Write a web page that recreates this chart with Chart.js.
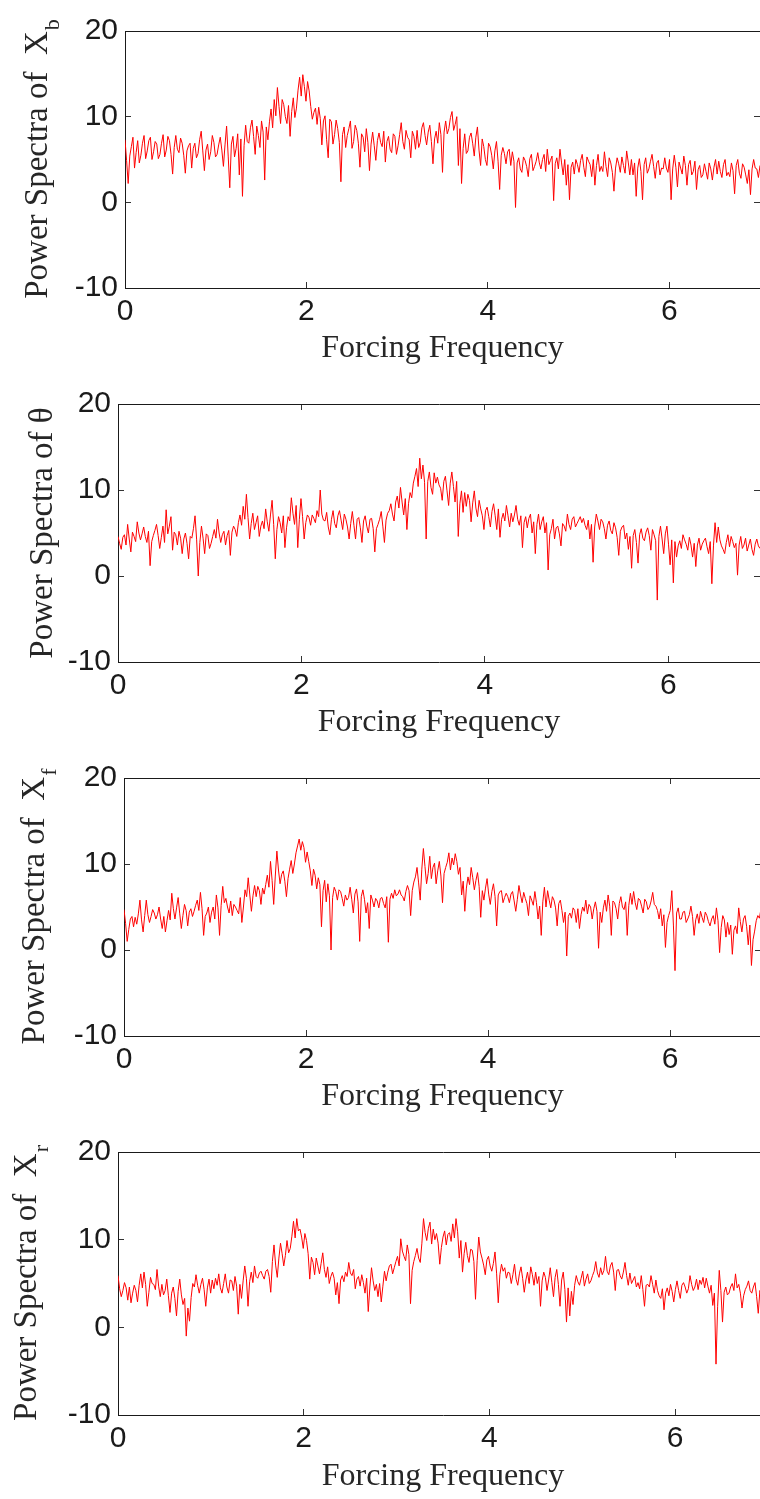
<!DOCTYPE html>
<html>
<head>
<meta charset="utf-8">
<title>Power spectra</title>
<script src="https://cdn.jsdelivr.net/npm/chart.js@4.4.1/dist/chart.umd.min.js"></script>
<style>
  html, body { margin: 0; padding: 0; background: #fff; }
  body { width: 760px; height: 1499px; overflow: hidden; position: relative; }
  canvas { position: absolute; left: 0; }
</style>
</head>
<body>
<canvas id="c1"></canvas>
<canvas id="c2"></canvas>
<canvas id="c3"></canvas>
<canvas id="c4"></canvas>
<script>
// spectra are read at f = k*0.035 (main arrays) and f = k*0.035 + 0.0175 (Mid arrays)
const FREQ_STEP = 0.035;
const xTickValues = [0, 2, 4, 6];
const yTickValues = [-10, 0, 10, 20];

const spectraXb = [
  7.3, 2.2, 6.5, 4.0, 7.2, 5.5, 7.8, 6.0, 7.6, 5.9,
  6.8, 5.6, 7.9, 6.1, 7.2, 3.3, 7.8, 5.8, 6.9, 3.4,
  6.6, 4.0, 6.9, 5.7, 8.3, 3.7, 6.8, 5.9, 7.0, 5.6,
  7.6, 4.2, 8.9, 1.7, 7.7, 6.3, 3.2, 0.7, 9.0, 6.9,
  9.6, 5.6, 7.8, 9.5, 2.6, 7.3, 10.9, 12.0, 13.4, 9.2,
  11.4, 9.2, 7.7, 12.2, 11.0, 14.6, 14.9, 11.8, 13.0, 9.7,
  11.0, 11.1, 6.7, 10.1, 5.2, 9.4, 7.9, 8.6, 2.4, 8.8,
  7.8, 9.5, 7.1, 8.4, 4.1, 7.6, 8.6, 3.7, 8.2, 4.9,
  8.1, 6.5, 4.7, 7.7, 5.8, 7.7, 6.6, 9.3, 6.2, 7.6,
  5.2, 7.7, 8.4, 7.0, 9.3, 6.7, 9.0, 4.5, 8.3, 9.3,
  3.5, 9.5, 8.6, 10.6, 9.1, 4.3, 2.2, 8.0, 6.0, 8.1,
  5.4, 8.8, 4.3, 6.5, 4.3, 6.5, 3.9, 7.1, 1.5, 6.4,
  4.5, 6.2, 5.9, -0.6, 5.2, 3.5, 4.9, 3.0, 5.6, 4.2,
  5.8, 3.9, 5.6, 6.2, 4.9, 0.2, 5.2, 6.2, 3.2, 2.0,
  0.3, 4.7, 5.0, 3.5, 5.6, 3.0, 4.8, 3.0, 2.0, 5.6,
  4.2, 5.9, 3.0, 4.6, 1.3, 5.2, 3.5, 4.3, 6.0, 3.2,
  3.2, 0.7, 5.1, 0.3, 5.2, 3.9, 5.6, 2.8, 4.9, 4.0,
  5.2, 3.5, 0.3, 5.5, 1.8, 4.0, 5.4, 2.0, 4.9, 3.6,
  1.5, 4.3, 3.2, 3.6, 4.6, 2.6, 5.0, 4.8, 2.9, 5.0,
  3.5, 4.6, 1.0, 5.0, 2.8, 4.1, 2.2, 0.9, 5.0, 3.9, 4.3
];
const spectraXbMid = [
  4.9, 5.4, 7.6, 5.8, 4.6, 6.9, 5.1, 7.2, 5.0, 7.1,
  5.1, 6.9, 5.3, 7.7, 5.6, 6.4, 6.2, 7.5, 5.5, 6.0,
  6.9, 6.3, 5.2, 7.3, 6.0, 6.1, 5.0, 7.8, 5.3, 6.7,
  6.1, 6.7, 5.4, 6.8, 5.3, 8.0, 7.4, 6.6, 7.1, 8.7,
  7.7, 8.9, 6.4, 8.2, 8.8, 9.4, 8.7, 10.1, 11.2, 12.0,
  10.0, 11.3, 10.6, 9.9, 13.1, 12.4, 13.5, 14.1, 11.2, 10.5,
  9.1, 9.8, 9.5, 7.3, 9.7, 6.8, 9.6, 7.0, 7.9, 6.4,
  8.6, 6.3, 9.0, 6.9, 8.0, 5.9, 7.0, 6.8, 6.6, 7.2,
  7.0, 8.3, 7.1, 6.2, 8.0, 5.6, 7.9, 7.1, 8.4, 7.3,
  8.3, 6.2, 6.4, 8.7, 7.8, 8.2, 7.1, 7.4, 6.9, 7.9,
  8.2, 8.0, 9.9, 8.4, 10.0, 8.6, 6.3, 5.7, 7.6, 6.9,
  7.6, 6.1, 7.4, 5.0, 6.9, 5.5, 6.0, 4.8, 5.5, 5.7,
  5.9, 4.3, 4.8, 4.6, 3.9, 5.3, 4.2, 5.1, 3.7, 4.8,
  4.6, 5.0, 3.6, 4.4, 5.4, 4.5, 3.9, 4.6, 5.0, 4.4,
  4.1, 3.3, 4.4, 4.9, 4.1, 5.3, 4.4, 5.0, 4.3, 3.6,
  3.6, 4.2, 5.2, 3.5, 4.0, 4.5, 5.3, 3.4, 4.7, 5.0,
  4.6, 4.0, 3.6, 4.4, 3.4, 4.8, 4.2, 4.6, 3.2, 3.9,
  4.0, 5.0, 3.9, 4.1, 4.7, 3.3, 4.3, 4.4, 3.2, 4.8,
  3.8, 2.9, 4.5, 2.7, 3.9, 4.1, 3.3, 3.6, 4.4, 3.1,
  3.0, 3.7, 4.3, 3.4, 4.5, 3.2, 3.8, 3.9, 4.0, 2.9
];

const spectraTheta = [
  4.6, 3.1, 4.8, 6.0, 2.8, 4.6, 6.3, 4.2, 5.7, 3.9,
  1.2, 4.7, 6.0, 3.2, 5.8, 7.7, 5.8, 3.0, 4.8, 5.2,
  2.6, 5.0, 2.0, 4.4, 7.0, 0.0, 5.8, 2.6, 4.7, 3.8,
  5.4, 6.6, 3.9, 5.2, 4.7, 2.4, 5.8, 4.6, 7.1, 8.1,
  9.5, 4.3, 7.3, 6.2, 4.6, 6.4, 7.8, 5.2, 8.8, 2.0,
  6.9, 5.0, 3.3, 6.9, 9.1, 6.0, 3.3, 9.0, 4.3, 7.1,
  5.9, 6.7, 7.6, 10.0, 6.5, 7.4, 4.8, 7.6, 5.6, 7.6,
  5.4, 6.6, 4.3, 7.5, 4.3, 6.8, 3.9, 7.0, 5.0, 6.7,
  2.8, 6.0, 7.5, 3.9, 7.3, 8.4, 6.4, 9.3, 10.3, 7.1,
  5.4, 9.7, 10.8, 12.5, 13.7, 12.9, 4.3, 12.1, 9.5, 10.8,
  10.6, 8.8, 11.6, 8.2, 12.1, 8.6, 4.6, 9.9, 9.7, 9.5,
  6.3, 9.9, 6.9, 7.8, 5.4, 8.0, 5.7, 8.4, 5.4, 4.5,
  7.3, 8.2, 5.7, 6.3, 8.2, 5.9, 3.3, 6.9, 6.7, 5.0,
  2.6, 7.2, 6.3, 5.0, 0.7, 5.5, 4.3, 5.8, 3.5, 5.8,
  7.2, 5.4, 6.9, 6.1, 6.9, 6.7, 5.4, 4.3, 1.6, 7.2,
  5.4, 6.3, 4.3, 6.4, 4.9, 5.6, 2.4, 5.7, 4.3, 3.1,
  0.9, 5.4, 1.5, 5.5, 4.1, 5.6, 3.0, 4.8, -2.8, 5.8,
  2.6, 5.8, 1.3, -0.8, 2.2, 4.1, 4.8, 3.7, 4.5, 2.2,
  1.1, 4.4, 3.7, 4.4, 2.6, -0.9, 6.2, 5.7, 3.5, 2.6,
  4.8, 4.6, 3.3, 0.1, 4.6, 3.6, 2.9, 4.3, 2.4, 4.3, 3.2
];
const spectraThetaMid = [
  3.8, 4.5, 3.6, 4.3, 5.1, 4.0, 5.0, 4.9, 4.6, 5.2,
  4.0, 5.3, 4.7, 4.5, 3.9, 4.9, 6.9, 5.1, 3.6, 4.4,
  4.3, 3.8, 4.6, 5.5, 4.2, 3.9, 4.4, 4.9, 3.2, 4.6,
  4.4, 5.0, 4.8, 3.6, 5.3, 5.1, 5.4, 6.2, 5.9, 6.6,
  6.8, 6.1, 5.4, 7.0, 5.8, 5.5, 6.3, 7.1, 6.0, 5.4,
  6.2, 7.0, 5.6, 6.4, 7.3, 8.2, 6.6, 6.9, 6.2, 6.8,
  7.1, 6.2, 6.9, 7.2, 6.4, 5.7, 6.6, 6.1, 7.0, 6.5,
  7.2, 5.7, 6.1, 5.9, 6.6, 5.6, 6.4, 5.8, 6.6, 5.5,
  5.5, 6.6, 5.8, 6.5, 7.6, 7.2, 8.6, 7.9, 8.6, 9.0,
  8.4, 9.1, 11.6, 10.4, 11.3, 10.9, 11.0, 10.3, 12.0, 11.5,
  10.2, 11.0, 9.9, 10.8, 10.4, 11.0, 8.4, 7.4, 8.1, 8.8,
  8.5, 7.9, 8.8, 7.0, 7.6, 6.9, 7.5, 7.0, 7.8, 6.6,
  6.4, 7.0, 7.3, 7.1, 6.6, 7.0, 6.2, 5.6, 7.2, 6.3,
  6.0, 5.4, 6.9, 6.2, 4.8, 6.6, 5.6, 4.9, 6.1, 5.2,
  6.0, 6.6, 5.7, 6.5, 6.2, 5.9, 6.5, 6.0, 5.7, 6.4,
  6.6, 5.5, 5.9, 5.3, 6.2, 4.5, 5.2, 5.9, 5.0, 4.6,
  4.7, 3.9, 4.8, 4.4, 5.1, 4.7, 5.4, 4.1, 4.6, 4.3,
  4.9, 3.7, 4.2, 4.0, 3.5, 3.2, 4.2, 3.0, 3.6, 3.8,
  3.6, 3.0, 4.1, 3.4, 4.0, 3.5, 3.9, 4.2, 3.1, 3.9,
  3.4, 4.0, 3.8, 3.6, 3.2, 4.4, 3.6, 3.1, 3.7, 3.5
];

const spectraXf = [
  4.7, 1.0, 3.6, 2.7, 3.0, 5.8, 2.1, 5.8, 3.2, 4.7,
  3.6, 5.0, 2.5, 2.1, 4.6, 6.6, 3.6, 6.1, 2.5, 5.3,
  2.8, 4.8, 4.5, 5.8, 6.7, 1.7, 4.3, 3.2, 5.0, 6.4,
  1.7, 7.4, 6.0, 4.3, 4.0, 5.0, 4.2, 3.2, 7.0, 8.4,
  4.5, 7.5, 7.4, 5.3, 6.5, 8.7, 10.3, 5.3, 11.5, 7.7,
  9.2, 6.2, 9.4, 8.9, 11.3, 12.9, 12.6, 10.2, 10.3, 7.5,
  8.7, 8.4, 2.7, 8.1, 7.7, 0.0, 7.3, 5.8, 6.8, 5.1,
  5.8, 7.3, 4.3, 7.1, 1.0, 7.0, 4.3, 2.5, 5.8, 6.0,
  4.9, 6.1, 4.9, 0.9, 6.6, 7.0, 6.5, 6.4, 5.7, 7.5,
  4.0, 7.9, 9.6, 5.8, 11.8, 7.7, 10.9, 9.6, 7.7, 10.3,
  5.5, 9.6, 11.3, 10.7, 11.2, 8.8, 6.4, 4.5, 8.5, 9.6,
  7.0, 9.0, 3.8, 5.8, 8.3, 5.3, 7.7, 2.8, 6.8, 5.5,
  6.6, 5.5, 6.8, 4.5, 7.5, 5.5, 6.0, 4.0, 5.8, 6.8,
  3.6, 1.7, 7.3, 6.9, 4.9, 5.8, 2.8, 5.8, 3.2, -0.7,
  4.3, 4.9, 3.2, 2.5, 5.0, 5.8, 5.3, 3.6, 5.6, 0.2,
  3.2, 5.8, 6.4, 1.7, 5.5, 3.6, 6.2, 4.7, 1.7, 6.6,
  6.8, 4.7, 5.8, 4.3, 5.6, 5.0, 6.7, 5.1, 3.6, 2.8,
  0.3, 4.0, 6.9, -2.4, 4.9, 3.6, 4.5, 3.6, 5.1, 1.7,
  4.2, 4.5, 3.2, 4.0, 2.8, 4.0, 4.9, -0.3, 4.0, 1.5,
  1.8, -0.5, 2.8, 4.9, 2.1, 4.0, 0.6, -1.8, 2.2, 4.0, 4.8
];
const spectraXfMid = [
  3.1, 2.4, 3.9, 3.8, 4.2, 3.5, 4.0, 4.1, 3.9, 4.3,
  4.1, 3.6, 3.9, 3.4, 3.5, 4.8, 4.9, 4.2, 4.0, 4.6,
  4.4, 3.9, 5.2, 4.6, 4.8, 3.9, 5.0, 4.4, 3.6, 4.9,
  5.2, 5.5, 5.0, 5.7, 5.3, 4.6, 6.1, 5.0, 6.2, 6.4,
  6.3, 6.2, 6.9, 7.2, 7.6, 7.3, 8.1, 8.6, 9.3, 8.8,
  8.0, 8.3, 10.4, 10.0, 12.1, 11.6, 11.9, 11.4, 9.2, 9.4,
  7.1, 7.6, 6.9, 5.6, 6.3, 6.1, 6.8, 7.0, 6.0, 6.4,
  6.1, 5.9, 6.5, 5.6, 6.2, 5.9, 5.5, 6.4, 5.0, 5.7,
  6.0, 5.4, 6.2, 5.9, 6.0, 6.3, 7.0, 6.2, 6.8, 6.9,
  6.9, 8.5, 7.8, 9.4, 9.7, 8.9, 8.3, 10.1, 9.2, 8.6,
  8.9, 10.2, 9.3, 9.9, 10.3, 9.6, 8.0, 7.2, 7.6, 8.4,
  8.1, 7.4, 6.9, 7.2, 6.5, 6.8, 6.2, 6.4, 6.9, 6.1,
  6.2, 6.5, 5.7, 5.9, 6.4, 6.7, 5.4, 6.3, 5.2, 5.5,
  5.1, 5.6, 5.0, 5.8, 6.2, 4.9, 5.4, 4.6, 4.4, 3.9,
  3.7, 4.6, 4.8, 4.1, 4.5, 4.2, 5.0, 4.8, 4.5, 4.4,
  4.9, 4.5, 5.1, 5.7, 4.8, 5.4, 5.0, 5.6, 5.2, 5.3,
  5.5, 6.0, 5.1, 5.9, 4.7, 5.7, 5.3, 4.6, 4.8, 4.1,
  3.2, 4.6, 2.9, 4.3, 3.6, 4.4, 3.2, 4.1, 3.9, 3.5,
  3.1, 3.8, 4.4, 3.3, 3.6, 3.0, 3.4, 2.6, 3.5, 3.2,
  2.9, 2.3, 1.9, 3.3, 3.6, 2.7, 2.9, 1.2, 3.4, 3.7
];

const spectraXr = [
  5.9, 3.5, 5.1, 3.1, 2.8, 4.8, 2.9, 6.1, 6.3, 2.4,
  5.7, 4.9, 6.6, 3.5, 3.7, 5.5, 1.7, 4.6, 1.3, 5.5,
  2.6, -1.0, 0.7, 5.0, 6.0, 3.9, 5.6, 2.4, 5.5, 5.4,
  5.6, 6.1, 3.9, 6.1, 3.9, 5.3, 5.8, 1.5, 3.3, 7.0,
  2.4, 6.3, 7.0, 5.6, 6.4, 5.5, 6.6, 4.0, 9.4, 5.7,
  9.6, 7.0, 9.9, 9.0, 12.1, 12.4, 11.2, 9.0, 9.9, 5.5,
  7.4, 7.9, 6.1, 8.5, 5.7, 5.0, 6.3, 3.7, 2.7, 5.9,
  6.3, 7.4, 5.9, 4.4, 5.8, 6.0, 3.9, 1.8, 6.8, 4.2,
  3.5, 2.9, 6.4, 6.3, 7.2, 6.8, 8.1, 10.1, 8.1, 9.4,
  2.7, 7.5, 9.0, 7.4, 12.4, 9.9, 12.0, 11.2, 10.7, 7.2,
  10.3, 9.4, 10.8, 11.8, 12.4, 7.9, 6.3, 9.7, 7.4, 8.8,
  3.2, 10.3, 7.9, 6.0, 8.1, 6.4, 8.6, 2.8, 7.2, 6.8,
  6.3, 5.0, 7.2, 4.8, 6.9, 4.0, 6.3, 6.9, 4.8, 5.0,
  2.4, 6.3, 4.2, 6.8, 3.5, 6.6, 2.4, 6.3, 0.6, 1.3,
  2.6, 5.9, 4.8, 6.4, 5.5, 5.0, 5.9, 7.5, 5.7, 6.0,
  8.1, 6.0, 7.4, 4.2, 6.6, 5.5, 7.4, 4.8, 5.0, 5.8,
  5.1, 5.9, 2.4, 4.9, 5.9, 3.9, 4.2, 3.3, 2.0, 4.5,
  4.9, 2.9, 5.3, 3.3, 5.1, 3.9, 5.9, 4.2, 5.5, 5.4,
  5.7, 5.6, 3.9, 2.5, -4.2, 6.5, 0.6, 4.6, 3.9, 5.0,
  6.1, 4.9, 2.2, 4.3, 5.3, 3.9, 5.1, 1.6, 3.5, 4.4, 3.9
];
const spectraXrMid = [
  4.4, 4.2, 4.5, 4.6, 3.9, 4.2, 4.8, 4.5, 4.9, 4.0,
  5.0, 4.3, 4.7, 4.9, 4.2, 3.6, 3.9, 3.3, 4.1, 3.7,
  3.3, 2.2, 3.4, 4.6, 4.8, 4.9, 4.3, 4.5, 3.9, 4.4,
  4.8, 4.5, 5.0, 4.6, 5.4, 4.2, 4.7, 4.9, 5.3, 5.6,
  5.2, 5.1, 5.8, 6.2, 5.9, 6.4, 5.8, 7.5, 7.1, 7.9,
  8.4, 8.2, 8.5, 10.4, 10.2, 11.0, 10.3, 10.7, 8.4, 8.0,
  6.0, 7.0, 7.3, 6.6, 6.9, 5.8, 5.6, 5.1, 5.4, 5.2,
  5.8, 6.2, 6.6, 5.5, 4.7, 5.1, 5.6, 4.6, 5.3, 4.9,
  5.0, 4.7, 5.3, 7.0, 6.1, 7.5, 7.0, 8.7, 7.6, 8.3,
  6.5, 8.2, 7.9, 9.6, 10.8, 11.3, 9.5, 10.0, 9.6, 9.1,
  11.0, 10.6, 9.8, 10.2, 10.9, 9.9, 8.4, 8.2, 8.9, 7.5,
  7.6, 8.6, 7.1, 7.7, 7.0, 7.3, 6.1, 6.0, 6.4, 5.6,
  6.2, 6.0, 5.5, 6.1, 5.6, 5.4, 5.0, 6.0, 6.3, 5.8,
  5.3, 5.7, 5.4, 5.1, 5.7, 4.9, 5.4, 4.3, 4.5, 4.1,
  4.8, 5.2, 5.6, 4.7, 6.1, 5.3, 6.4, 6.2, 6.8, 6.5,
  6.4, 7.0, 6.3, 6.5, 5.9, 6.3, 5.9, 6.2, 5.4, 4.6,
  4.4, 4.3, 4.8, 4.6, 4.9, 5.4, 3.6, 4.4, 3.9, 3.6,
  4.1, 4.3, 4.2, 4.8, 4.6, 4.4, 4.9, 4.6, 4.3, 4.9,
  4.5, 4.7, 4.8, 3.9, 2.4, 4.2, 4.0, 3.7, 4.6, 4.2,
  4.5, 3.9, 3.6, 4.7, 4.2, 4.6, 3.5, 4.2, 4.8, 4.0
];

const CANVAS_W = 780;
const TICK_FONT = { family: 'Liberation Sans', size: 30 };
const TITLE_FONT = { family: 'Liberation Serif', size: 32 };
const INK = '#1a1a1a';

// plot boxes measured on the picture (page pixels)
const panels = [
  { id: 'c1', values: spectraXb, mids: spectraXbMid, yTitle: 'Power Spectra of  X', sub: 'b', left: 125, top: 23, bottom: 288, right: 760, titleBase: 47, xGap: 61 },
  { id: 'c2', values: spectraTheta, mids: spectraThetaMid, yTitle: 'Power Spectra of \u03b8', sub: '', left: 118, top: 396, bottom: 662, right: 760, titleBase: 52, xGap: 61 },
  { id: 'c3', values: spectraXf, mids: spectraXfMid, yTitle: 'Power Spectra of  X', sub: 'f', left: 124, top: 770, bottom: 1036, right: 761, titleBase: 44, xGap: 61 },
  { id: 'c4', values: spectraXr, mids: spectraXrMid, yTitle: 'Power Spectra of  X', sub: 'r', left: 118, top: 1144, bottom: 1415, right: 768, titleBase: 36, xGap: 62 }
];

// rotated y title with a subscript, MATLAB style
const yTitlePlugin = {
  id: 'yTitle',
  afterDraw(chart, args, opts) {
    const { ctx, chartArea } = chart;
    const cy = (chartArea.top + chartArea.bottom) / 2;
    const mainFont = opts.size + 'px "Liberation Serif"';
    const subFont = opts.subSize + 'px "Liberation Serif"';
    ctx.save();
    ctx.font = mainFont;
    const w1 = ctx.measureText(opts.text).width;
    ctx.font = subFont;
    const w2 = opts.sub ? ctx.measureText(opts.sub).width : 0;
    ctx.translate(opts.x, cy);
    ctx.rotate(-Math.PI / 2);
    ctx.fillStyle = opts.color;
    ctx.textAlign = 'left';
    ctx.textBaseline = 'alphabetic';
    const x0 = -(w1 + w2) / 2;
    ctx.font = mainFont;
    ctx.fillText(opts.text, x0, 0);
    if (opts.sub) {
      ctx.font = subFont;
      ctx.fillText(opts.sub, x0 + w1 + 1, opts.subShift);
    }
    ctx.restore();
  }
};

function keepEven(scale) {
  scale.ticks = scale.ticks.filter(t => xTickValues.includes(t.value));
}

function keepYTicks(scale) {
  scale.ticks = scale.ticks.filter(t => yTickValues.includes(t.value));
}

// merge the two read-off grids into one series of {x, y}
function toPoints(values, mids) {
  const pts = [];
  values.forEach((v, i) => {
    pts.push({ x: +(i * FREQ_STEP).toFixed(4), y: v });
    if (i < mids.length) pts.push({ x: +(i * FREQ_STEP + FREQ_STEP / 2).toFixed(4), y: mids[i] });
  });
  return pts;
}

function drawPanel(p) {
  const canvasTop = p.top - 23;
  const lineHeight = TITLE_FONT.size * 1.2;
  const canvasH = Math.round(p.bottom - canvasTop + p.xGap + lineHeight / 2 + 4);
  const canvas = document.getElementById(p.id);
  canvas.width = CANVAS_W;
  canvas.height = canvasH;
  canvas.style.top = canvasTop + 'px';
  canvas.style.width = CANVAS_W + 'px';
  canvas.style.height = canvasH + 'px';

  const xAxisHeight = canvasH - (p.bottom - canvasTop);
  const edgeGrid = { display: true, drawOnChartArea: false, drawTicks: true, tickLength: -6, color: '#333' };
  const edgeBorder = { display: true, color: INK, width: 1 };

  new Chart(canvas, {
    type: 'line',
    data: {
      datasets: [{
        data: toPoints(p.values, p.mids),
        borderColor: '#ff0000',
        borderWidth: 1,
        pointRadius: 0,
        tension: 0,
        fill: false
      }]
    },
    options: {
      responsive: false,
      animation: false,
      devicePixelRatio: 1,
      layout: { padding: { top: p.top - canvasTop, right: CANVAS_W - p.right, left: 0, bottom: 0 } },
      plugins: {
        legend: { display: false },
        tooltip: { enabled: false },
        yTitle: { text: p.yTitle, sub: p.sub, x: p.titleBase, size: 33, subSize: 22, subShift: 12, color: '#262626' }
      },
      scales: {
        x: {
          type: 'linear', position: 'bottom', min: 0, max: 7,
          ticks: { stepSize: 2, padding: 12, color: INK, font: TICK_FONT, maxRotation: 0 },
          afterBuildTicks: keepEven,
          afterFit: s => { s.height = xAxisHeight; },
          grid: edgeGrid, border: edgeBorder,
          title: { display: true, text: 'Forcing Frequency', color: '#262626', font: TITLE_FONT, padding: { top: 0, bottom: 4 } }
        },
        x2: {
          type: 'linear', position: 'top', min: 0, max: 7,
          ticks: { display: false, stepSize: 2 },
          afterBuildTicks: keepEven,
          afterFit: s => { s.height = 0; },
          grid: edgeGrid, border: edgeBorder
        },
        y: {
          type: 'linear', position: 'left', min: -10, max: 20,
          ticks: { stepSize: 10, padding: 13, color: INK, font: TICK_FONT },
          afterBuildTicks: keepYTicks,
          afterFit: s => { s.width = p.left; },
          grid: edgeGrid, border: edgeBorder
        },
        y2: {
          type: 'linear', position: 'right', min: -10, max: 20,
          ticks: { display: false, stepSize: 10 },
          afterBuildTicks: keepYTicks,
          afterFit: s => { s.width = 0; },
          grid: edgeGrid, border: edgeBorder
        }
      }
    },
    plugins: [yTitlePlugin]
  });
}

panels.forEach(drawPanel);
</script>
</body>
</html>
